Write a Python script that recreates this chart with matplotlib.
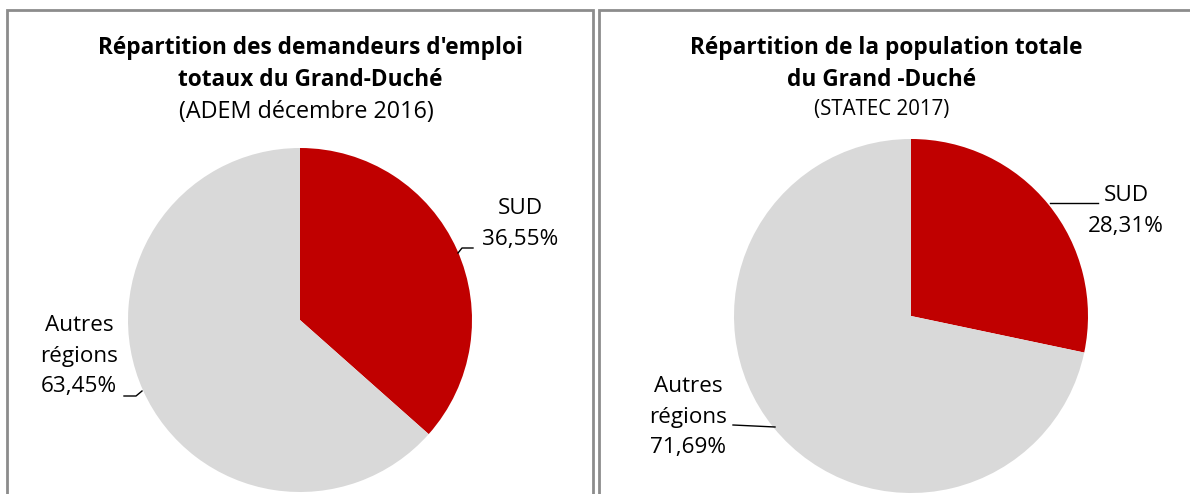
import matplotlib
matplotlib.use("Agg")
import matplotlib.pyplot as plt
from matplotlib.patches import Rectangle
from matplotlib.lines import Line2D

W, H = 1190, 494
DPI = 100

# Data
categories = ["SUD", "Autres régions"]
values_left = [36.55, 63.45]
values_right = [28.31, 71.69]
labels_left = ["SUD\n36,55%", "Autres\nrégions\n63,45%"]
labels_right = ["SUD\n28,31%", "Autres\nrégions\n71,69%"]
title_left = ["Répartition des demandeurs d'emploi", "totaux du Grand-Duché", "(ADEM décembre 2016)"]
title_right = ["Répartition de la population totale", "du Grand -Duché", "(STATEC 2017)"]
colors = ["#C00000", "#D9D9D9"]

plt.rcParams['font.family'] = ['Open Sans', 'DejaVu Sans']

fig = plt.figure(figsize=(W / DPI, H / DPI), dpi=DPI)
fig.patch.set_facecolor("white")


def fx(x):
    return x / W


def fy(y):
    return 1 - y / H


def pie_axes(cx, cy, r, values):
    ax = fig.add_axes([fx(cx - r), fy(cy + r), 2 * r / W, 2 * r / H])
    ax.pie(values, colors=colors, startangle=90, counterclock=False,
           radius=1.0, wedgeprops=dict(linewidth=0))
    ax.set_xlim(-1, 1)
    ax.set_ylim(-1, 1)
    ax.set_aspect("auto")
    ax.axis("off")
    return ax


pie_axes(300, 320, 172, values_left)
pie_axes(911, 316, 177, values_right)

# Panel borders
border_col = "#8C8C8C"
for (x0, y0, x1, y1) in [(7, 10, 593, 520), (599, 10, 1210, 520)]:
    fig.patches.append(Rectangle((fx(x0), fy(y1)), (x1 - x0) / W, (y1 - y0) / H,
                                 transform=fig.transFigure, fill=False,
                                 edgecolor=border_col, linewidth=2.0))

# Titles
tfs = 16.3
fig.text(fx(310), fy(48), title_left[0], ha="center", va="center", fontsize=tfs, fontweight="bold")
fig.text(fx(310), fy(80), title_left[1], ha="center", va="center", fontsize=tfs, fontweight="bold")
fig.text(fx(306), fy(112), title_left[2], ha="center", va="center", fontsize=16.8)
fig.text(fx(886), fy(48), title_right[0], ha="center", va="center", fontsize=tfs, fontweight="bold")
fig.text(fx(882), fy(80), title_right[1], ha="center", va="center", fontsize=tfs, fontweight="bold")
fig.text(fx(882), fy(110), title_right[2], ha="center", va="center", fontsize=14.8)

# Data labels
lab_fs = 16.2
ls = 1.6
fig.text(fx(520), fy(224), labels_left[0], ha="center", va="center", fontsize=lab_fs, linespacing=ls)
fig.text(fx(79), fy(356), labels_left[1], ha="center", va="center", fontsize=lab_fs, linespacing=ls)
fig.text(fx(1126), fy(211), labels_right[0], ha="center", va="center", fontsize=lab_fs, linespacing=ls)
fig.text(fx(688), fy(417), labels_right[1], ha="center", va="center", fontsize=lab_fs, linespacing=ls)

# Leader lines
for xs, ys in [([458, 462, 473], [253, 248, 248]),
               ([124, 136, 142], [396, 396, 391]),
               ([1050, 1098], [203, 203]),
               ([733, 775], [425, 427])]:
    fig.lines.append(Line2D([fx(x) for x in xs], [fy(y) for y in ys],
                            transform=fig.transFigure, color="black", linewidth=1.0))

fig.savefig("out.png", dpi=DPI)
